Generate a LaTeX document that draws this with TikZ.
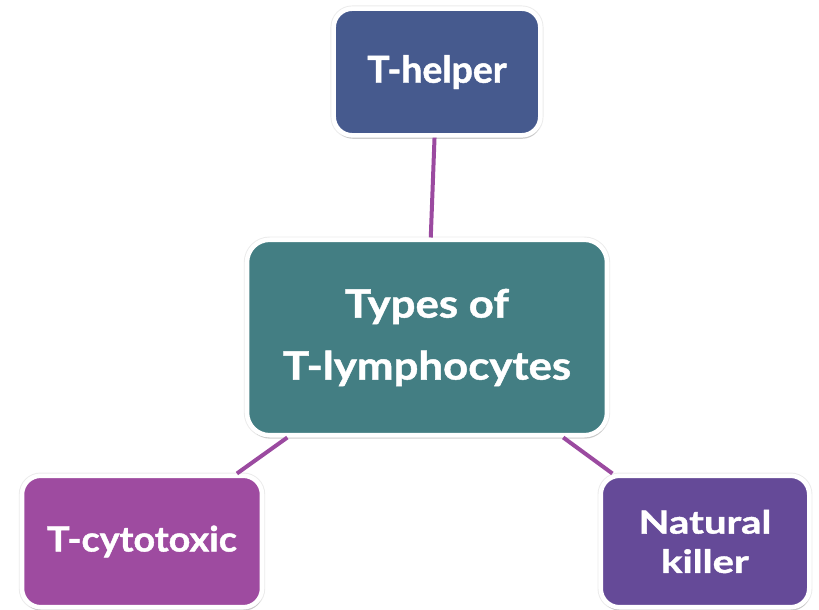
\documentclass[tikz,border=0pt]{standalone}
\usepackage{fontspec}
\setmainfont{Lato}[BoldFeatures={FakeBold=1.2}]
\usetikzlibrary{shadows}
\definecolor{helperblue}{HTML}{465A8E}
\definecolor{centerteal}{HTML}{437E83}
\definecolor{cytomag}{HTML}{9E4BA0}
\definecolor{nkpurple}{HTML}{654A98}
\definecolor{linkpurple}{HTML}{9B4AA0}
\begin{document}
\begin{tikzpicture}[x=0.75pt,y=-0.75pt,
  box/.style={draw=white,line width=3.4pt,rounded corners=14pt,text=white,
    align=center,inner sep=0pt,
    preaction={draw=black!8,line width=4.8pt},
    drop shadow={shadow xshift=0.6pt,shadow yshift=-2.6pt,opacity=0.22,fill=black!70}},
  link/.style={draw=linkpurple,line width=3pt}]
\useasboundingbox (0,0) rectangle (819,610);
\node[box,fill=helperblue,minimum width=155pt,minimum height=95pt,
  font=\bfseries\fontsize{28}{32}\selectfont] (helper) at (437,72) {T-helper};
\node[box,fill=centerteal,minimum width=270pt,minimum height=146.6pt,rounded corners=17pt,
  font=\bfseries\addfontfeatures{FakeStretch=1.12}\fontsize{29.3}{46.5}\selectfont] (center) at (427,337.5) {Types of\\T-lymphocytes};
\node[box,fill=cytomag,minimum width=180pt,minimum height=98.6pt,
  font=\bfseries\addfontfeatures{FakeStretch=1.08}\fontsize{26.2}{30}\selectfont] (cyto) at (142,541.5) {T-cytotoxic};
\node[box,fill=nkpurple,minimum width=156.4pt,minimum height=98.6pt,
  font=\bfseries\addfontfeatures{FakeStretch=1.25}\fontsize{24}{29.5}\selectfont] (nk) at (705,541.5) {Natural\\killer};
\draw[link] (helper) -- (center);
\draw[link] (center) -- (cyto);
\draw[link] (center) -- (nk);
\end{tikzpicture}
\end{document}
